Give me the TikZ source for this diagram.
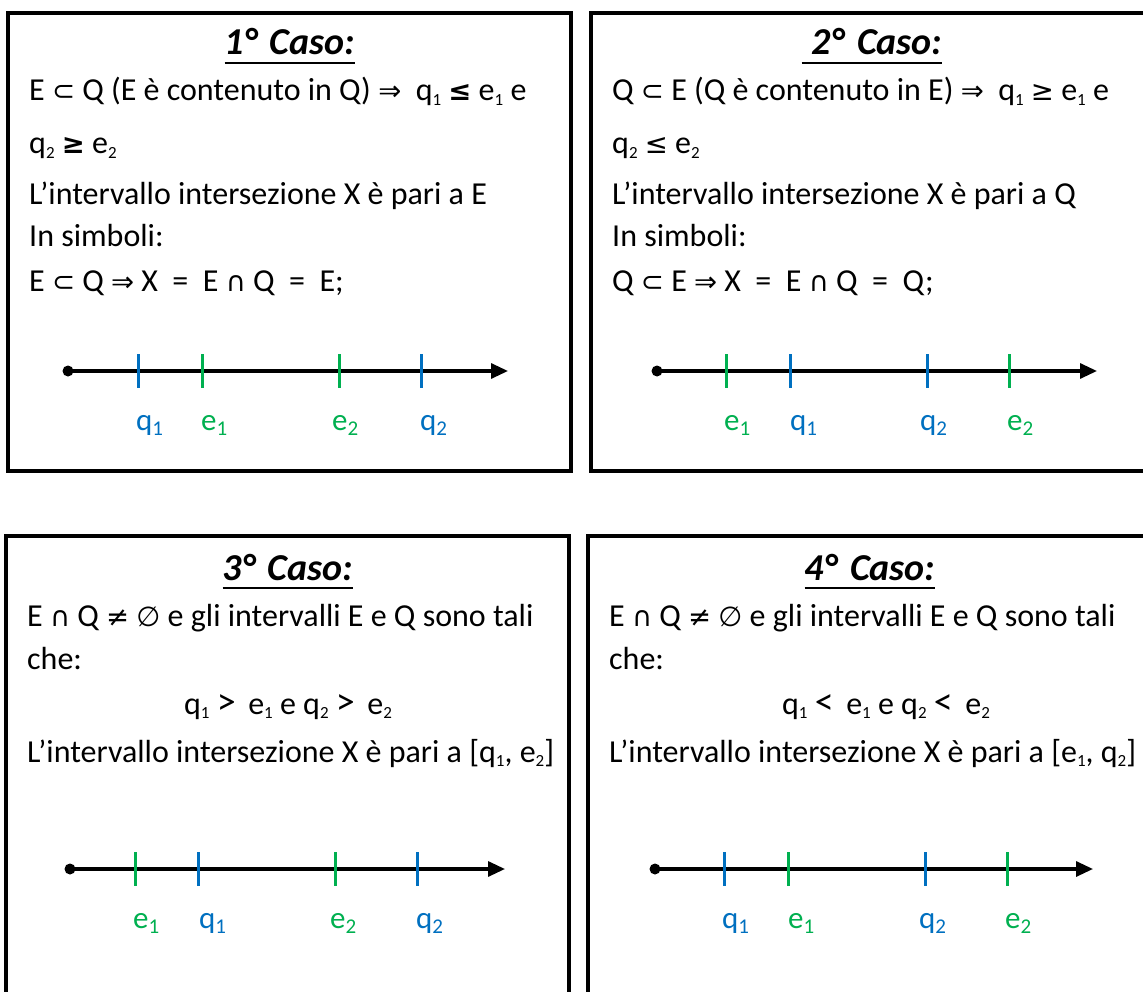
\documentclass[tikz,border=0pt]{standalone}
\usepackage{fontspec}
\setmainfont{Carlito}
\newfontfamily\symf{DejaVu Sans}[Scale=0.86]
\usetikzlibrary{arrows.meta}
\definecolor{qblue}{HTML}{0070C0}
\definecolor{egreen}{HTML}{00B050}
\newcommand\sbs[1]{\raisebox{-0.3ex}{\fontsize{17}{17}\selectfont #1}}
\newcommand\lsb[1]{\raisebox{-0.35ex}{\fontsize{21}{21}\selectfont #1}}
\newcommand\Sy[1]{{\symf #1}}
\newcommand\bigrel[1]{{\fontsize{38}{38}\selectfont #1}}
\begin{document}
\begin{tikzpicture}[x=1pt,y=-1pt,
  frame/.style={draw, line width=4pt},
  body/.style={anchor=base west, inner sep=0pt, font=\fontsize{32}{36}\selectfont},
  ttl/.style={anchor=base, inner sep=0pt, font=\fontsize{38}{42}\selectfont\bfseries\itshape},
  uline/.style={line width=2.8pt},
  axisline/.style={line width=3.2pt, -{Triangle[length=17pt,width=15pt]}},
  tq/.style={draw=qblue, line width=3pt},
  te/.style={draw=egreen, line width=3pt},
  lab/.style={anchor=base west, inner sep=0pt, font=\fontsize{31}{34}\selectfont},
  lq/.style={lab, text=qblue},
  le/.style={lab, text=egreen}]
\useasboundingbox (0,0) rectangle (1143,992);
\clip (0,0) rectangle (1143,992);
\fill[white] (0,0) rectangle (1143,992);

% ---------- frames
\draw[frame] (8,13) rectangle (571,471);
\draw[frame] (591,13) rectangle (1170,471);
\draw[frame] (6,536) rectangle (569,1020);
\draw[frame] (588,536) rectangle (1170,1020);

% ---------- Box 1
\node[ttl] (t1) at (290,55) {1°\hspace{13pt}Caso:};
\draw[uline] ([yshift=-8pt]t1.base west) -- ([yshift=-8pt]t1.base east);
\node[body] (b1l1) at (29,101) {E \Sy{⊂} Q (E è contenuto in Q) \Sy{⇒}\ \ q\sbs{1} {\symf\bfseries ≤} e\sbs{1} e};
\node[body] (b1l2) at (29,154) {q\sbs{2} {\symf\bfseries ≥} e\sbs{2}};
\node[body] (b1l3) at (29,205) {L’intervallo intersezione X è pari a E};
\node[body] (b1l4) at (29,247) {In simboli:};
\node[body] (b1l5) at (29,291) {E \Sy{⊂} Q \Sy{⇒} X \ = \ E \Sy{∩} Q \ = \ E;};
\coordinate (a1s) at (68,371);
\coordinate (a1e) at (508,371);
\draw[axisline] (a1s) -- (a1e);
\fill (a1s) circle (5.5);
\draw[tq] (138,354) -- (138,388);
\draw[te] (202,354) -- (202,388);
\draw[te] (339,354) -- (339,388);
\draw[tq] (421,354) -- (421,388);
\node[lq] (l1a) at (136,430) {q\lsb{1}};
\node[le] (l1b) at (201,430) {e\lsb{1}};
\node[le] (l1c) at (332,430) {e\lsb{2}};
\node[lq] (l1d) at (420,430) {q\lsb{2}};

% ---------- Box 2
\node[ttl] (t2) at (872,55) {\hspace{10pt}2°\hspace{13pt}Caso:};
\draw[uline] ([yshift=-8pt]t2.base west) -- ([yshift=-8pt]t2.base east);
\node[body] (b2l1) at (612,101) {Q \Sy{⊂} E (Q è contenuto in E) \Sy{⇒}\ \ q\sbs{1} \Sy{≥} e\sbs{1} e};
\node[body] (b2l2) at (612,154) {q\sbs{2} \Sy{≤} e\sbs{2}};
\node[body] (b2l3) at (612,205) {L’intervallo intersezione X è pari a Q};
\node[body] (b2l4) at (612,247) {In simboli:};
\node[body] (b2l5) at (612,291) {Q \Sy{⊂} E \Sy{⇒} X \ = \ E \Sy{∩} Q \ = \ Q;};
\coordinate (a2s) at (657,371);
\coordinate (a2e) at (1097,371);
\draw[axisline] (a2s) -- (a2e);
\fill (a2s) circle (5.5);
\draw[te] (726,354) -- (726,388);
\draw[tq] (790,354) -- (790,388);
\draw[tq] (927,354) -- (927,388);
\draw[te] (1009,354) -- (1009,388);
\node[le] (l2a) at (724,430) {e\lsb{1}};
\node[lq] (l2b) at (790,430) {q\lsb{1}};
\node[lq] (l2c) at (920,430) {q\lsb{2}};
\node[le] (l2d) at (1007,430) {e\lsb{2}};

% ---------- Box 3
\node[ttl] (t3) at (288,580) {3°\hspace{13pt}Caso:};
\draw[uline] ([yshift=-8pt]t3.base west) -- ([yshift=-8pt]t3.base east);
\node[body] (b3l1) at (27,626) {E \Sy{∩} Q \Sy{≠} \Sy{∅} e gli intervalli E e Q sono tali};
\node[body] (b3l2) at (27,669) {che:};
\node[body, anchor=base] (b3l3) at (288,714) {q\sbs{1} \bigrel{>}\, e\sbs{1} e q\sbs{2} \bigrel{>}\, e\sbs{2}};
\node[body] (b3l4) at (27,762) {L’intervallo intersezione X è pari a [q\sbs{1}, e\sbs{2}]};
\coordinate (a3s) at (70,869);
\coordinate (a3e) at (505,869);
\draw[axisline] (a3s) -- (a3e);
\fill (a3s) circle (5.5);
\draw[te] (135,852) -- (135,886);
\draw[tq] (198,852) -- (198,886);
\draw[te] (335,852) -- (335,886);
\draw[tq] (417,852) -- (417,886);
\node[le] (l3a) at (133,928) {e\lsb{1}};
\node[lq] (l3b) at (199,928) {q\lsb{1}};
\node[le] (l3c) at (330,928) {e\lsb{2}};
\node[lq] (l3d) at (416,928) {q\lsb{2}};

% ---------- Box 4
\node[ttl] (t4) at (870,580) {4°\hspace{13pt}Caso:};
\draw[uline] ([yshift=-8pt]t4.base west) -- ([yshift=-8pt]t4.base east);
\node[body] (b4l1) at (609,626) {E \Sy{∩} Q \Sy{≠} \Sy{∅} e gli intervalli E e Q sono tali};
\node[body] (b4l2) at (609,669) {che:};
\node[body, anchor=base] (b4l3) at (886,714) {q\sbs{1} \bigrel{<}\, e\sbs{1} e q\sbs{2} \bigrel{<}\, e\sbs{2}};
\node[body] (b4l4) at (609,762) {L’intervallo intersezione X è pari a [e\sbs{1}, q\sbs{2}]};
\coordinate (a4s) at (655,869);
\coordinate (a4e) at (1093,869);
\draw[axisline] (a4s) -- (a4e);
\fill (a4s) circle (5.5);
\draw[tq] (724,852) -- (724,886);
\draw[te] (788,852) -- (788,886);
\draw[tq] (925,852) -- (925,886);
\draw[te] (1007,852) -- (1007,886);
\node[lq] (l4a) at (722,928) {q\lsb{1}};
\node[le] (l4b) at (788,928) {e\lsb{1}};
\node[lq] (l4c) at (919,928) {q\lsb{2}};
\node[le] (l4d) at (1005,928) {e\lsb{2}};
\end{tikzpicture}
\end{document}
